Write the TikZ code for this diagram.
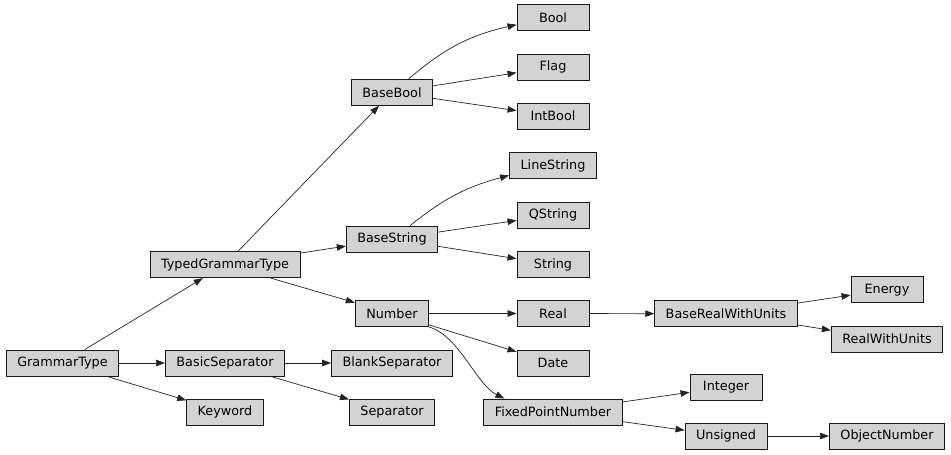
\documentclass[tikz,border=0pt]{standalone}
\usepackage{fontspec}
\setmainfont{DejaVu Sans}
\usepackage{tikz}
\usetikzlibrary{arrows.meta,positioning}
\definecolor{gvgray}{RGB}{211,211,211}
\definecolor{gvedge}{RGB}{35,35,35}
\tikzstyle{arrow} = [line width=0.7pt,-{Triangle[length=9pt,width=6.5pt]},color=gvedge]
\tikzstyle{classnode} = [rectangle, minimum width=72pt, minimum height=26pt, inner xsep=11pt, inner ysep=0pt, text centered, draw=black!90, fill=gvgray, line width=0.9pt, font=\fontsize{12.8}{15}\selectfont]

\begin{document}
\begin{tikzpicture}[x=1pt, y=1pt]
\useasboundingbox (0,0) rectangle (951,-455);

% Root and first level
\node[classnode] (GrammarType) at (62.5,-363) {GrammarType};
\node[classnode] (TypedGrammarType) at (225,-264.7) {TypedGrammarType};
\node[classnode] (BasicSeparator) at (225,-363) {BasicSeparator};
\node[classnode] (Keyword) at (225,-412) {Keyword};

% Second level
\node[classnode] (BaseBool) at (392,-92.3) {BaseBool};
\node[classnode] (BaseString) at (392,-239) {BaseString};
\node[classnode] (Number) at (392,-313.5) {Number};
\node[classnode] (BlankSeparator) at (392,-363) {BlankSeparator};
\node[classnode] (Separator) at (392,-412) {Separator};

% Third level
\node[classnode] (Bool) at (553,-17.7) {Bool};
\node[classnode] (Flag) at (553,-67) {Flag};
\node[classnode] (IntBool) at (553,-116) {IntBool};
\node[classnode] (LineString) at (553,-165.7) {LineString};
\node[classnode] (QString) at (553,-215) {QString};
\node[classnode] (String) at (553,-264.5) {String};
\node[classnode] (Real) at (553,-313.5) {Real};
\node[classnode] (Date) at (553,-363) {Date};
\node[classnode] (FixedPointNumber) at (553,-412) {FixedPointNumber};

% Fourth and fifth level
\node[classnode] (BaseRealWithUnits) at (726,-313.8) {BaseRealWithUnits};
\node[classnode] (Integer) at (726,-387) {Integer};
\node[classnode] (Unsigned) at (726,-436) {Unsigned};
\node[classnode] (Energy) at (887,-289.7) {Energy};
\node[classnode] (RealWithUnits) at (887,-339) {RealWithUnits};
\node[classnode] (ObjectNumber) at (887,-436) {ObjectNumber};

\draw[arrow] (GrammarType) -- (TypedGrammarType);
\draw[arrow] (GrammarType) -- (BasicSeparator);
\draw[arrow] (GrammarType) -- (Keyword);
\draw[arrow] (TypedGrammarType) -- (BaseBool);
\draw[arrow] (TypedGrammarType) -- (BaseString);
\draw[arrow] (TypedGrammarType) -- (Number);
\draw[arrow] (BasicSeparator) -- (BlankSeparator);
\draw[arrow] (BasicSeparator) -- (Separator);

\draw[arrow] (BaseBool) to[bend left=14] (Bool);
\draw[arrow] (BaseBool) -- (Flag);
\draw[arrow] (BaseBool) -- (IntBool);
\draw[arrow] (BaseString) to[bend left=12] (LineString);
\draw[arrow] (BaseString) -- (QString);
\draw[arrow] (BaseString) -- (String);
\draw[arrow] (Number) -- (Real);
\draw[arrow] (Number) -- (Date);
\draw[arrow] (Number.south east) .. controls +(30,-9) and +(-28,14) .. ([xshift=21pt]FixedPointNumber.north west);

\draw[arrow] (Real) -- (BaseRealWithUnits);
\draw[arrow] (BaseRealWithUnits) -- (Energy);
\draw[arrow] (BaseRealWithUnits) -- (RealWithUnits);
\draw[arrow] (FixedPointNumber) -- (Integer);
\draw[arrow] (FixedPointNumber) -- (Unsigned);
\draw[arrow] (Unsigned) -- (ObjectNumber);
\end{tikzpicture}
\end{document}
